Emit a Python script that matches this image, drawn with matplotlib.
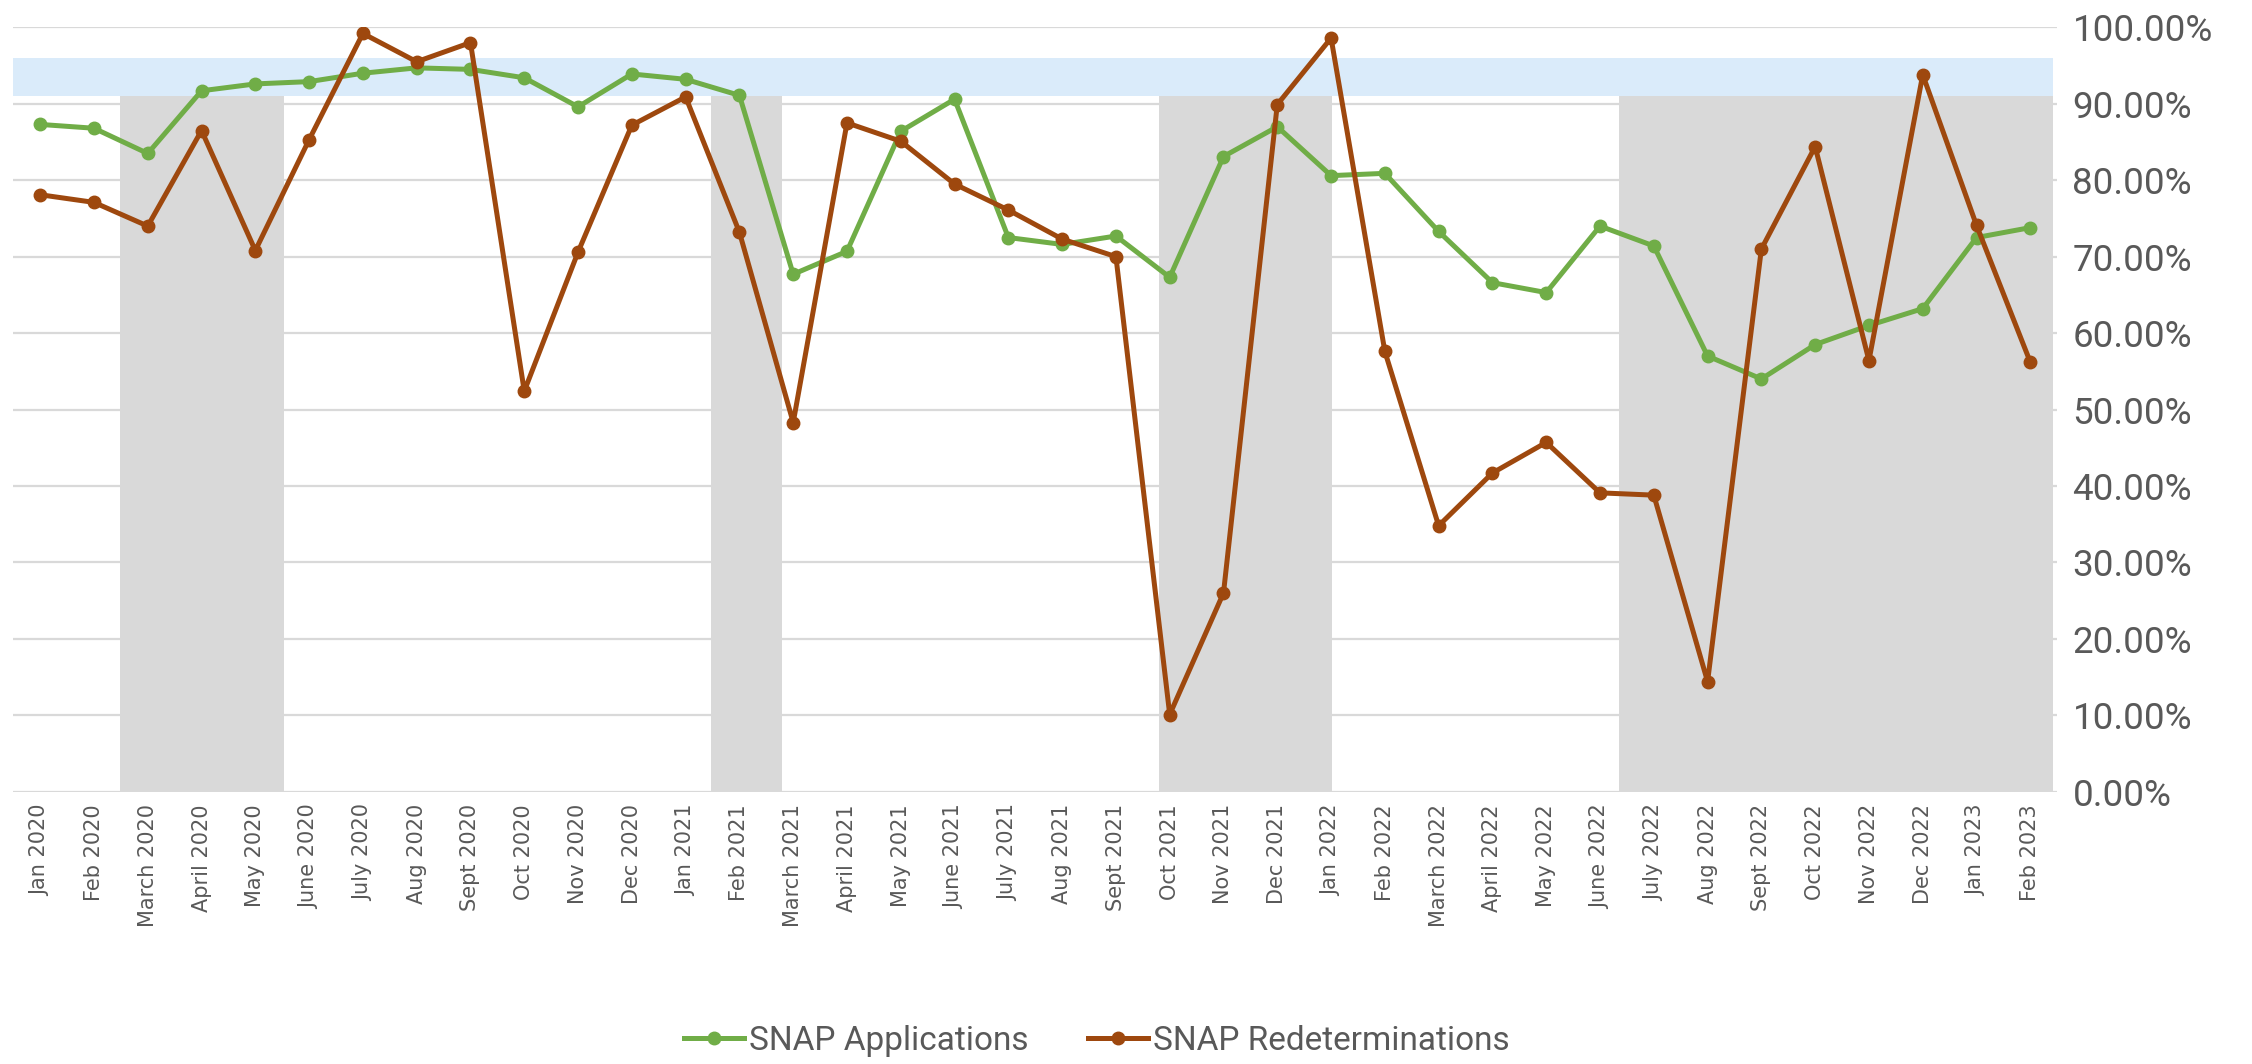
import matplotlib
matplotlib.use("Agg")
import matplotlib.pyplot as plt
from matplotlib.ticker import PercentFormatter

months = ["Jan 2020", "Feb 2020", "March 2020", "April 2020", "May 2020", "June 2020",
          "July 2020", "Aug 2020", "Sept 2020", "Oct 2020", "Nov 2020", "Dec 2020",
          "Jan 2021", "Feb 2021", "March 2021", "April 2021", "May 2021", "June 2021",
          "July 2021", "Aug 2021", "Sept 2021", "Oct 2021", "Nov 2021", "Dec 2021",
          "Jan 2022", "Feb 2022", "March 2022", "April 2022", "May 2022", "June 2022",
          "July 2022", "Aug 2022", "Sept 2022", "Oct 2022", "Nov 2022", "Dec 2022",
          "Jan 2023", "Feb 2023"]

applications = [87.3, 86.8, 83.5, 91.7, 92.6, 92.9, 94.0, 94.7, 94.5, 93.4, 89.6, 93.9,
                93.2, 91.1, 67.7, 70.7, 86.4, 90.6, 72.5, 71.6, 72.7, 67.3, 83.1, 87.0,
                80.6, 80.9, 73.3, 66.6, 65.3, 74.0, 71.4, 57.0, 54.0, 58.5, 61.0, 63.2,
                72.5, 73.8]

redeterminations = [78.1, 77.1, 74.0, 86.5, 70.8, 85.3, 99.2, 95.5, 98.0, 52.4, 70.6, 87.2,
                    90.9, 73.2, 48.3, 87.5, 85.1, 79.5, 76.1, 72.3, 70.0, 10.1, 26.0, 89.9,
                    98.6, 57.6, 34.8, 41.7, 45.7, 39.1, 38.8, 14.4, 71.0, 84.4, 56.4, 93.8,
                    74.1, 56.2]

# shaded periods (category positions) and target band (percent)
grey_periods = [(1.49, 4.53), (12.48, 13.79), (20.8, 24.02), (29.35, 37.42)]
grey_top = 91
target_band = (91, 96)

green = "#70AD47"
brown = "#9E480E"
text_color = "#595959"
label_font = ["Roboto", "DejaVu Sans"]

fig = plt.figure(figsize=(22.52, 10.64), dpi=100)
ax = fig.add_axes([0.0059, 0.2559, 0.9076, 0.7184])

x = list(range(len(months)))
app = [v / 100 for v in applications]
red = [v / 100 for v in redeterminations]

for x0, x1 in grey_periods:
    ax.fill_between([x0, x1], 0, grey_top / 100, color="#D9D9D9", lw=0, zorder=1)
ax.fill_between([-0.5, grey_periods[-1][1]], target_band[0] / 100, target_band[1] / 100,
                color="#DAEBFA", lw=0, zorder=1)

ax.plot(x, app, color=green, lw=3.6, marker="o", markersize=9, zorder=3,
        label="SNAP Applications")
ax.plot(x, red, color=brown, lw=3.6, marker="o", markersize=9, zorder=3,
        label="SNAP Redeterminations")

ax.set_xlim(-0.5, len(months) - 0.5)
ax.set_ylim(0, 1)
ax.set_yticks([i / 10 for i in range(11)])
ax.yaxis.set_major_formatter(PercentFormatter(xmax=1, decimals=2))
ax.yaxis.grid(True, color="#D9D9D9", lw=1.6)
ax.set_axisbelow(True)
for s in ax.spines.values():
    s.set_visible(False)

ax.set_xticks(x)
ax.set_xticklabels(months, rotation=90, fontsize=15, color=text_color,
                   family="DejaVu Sans")
ax.tick_params(axis="x", length=0, pad=9)
ax.tick_params(axis="y", length=0, labelright=True, labelleft=False, pad=11,
               labelcolor=text_color)
for lab in ax.get_yticklabels():
    lab.set_fontfamily(label_font)
    lab.set_fontsize(26.5)

leg = fig.legend(loc="center", bbox_to_anchor=(0.487, 0.0216), ncol=2, frameon=False,
                 prop={"family": label_font, "size": 24},
                 handlelength=1.8, handletextpad=0.15, columnspacing=1.8,
                 labelcolor=text_color)

fig.savefig("out.png", dpi=100)
